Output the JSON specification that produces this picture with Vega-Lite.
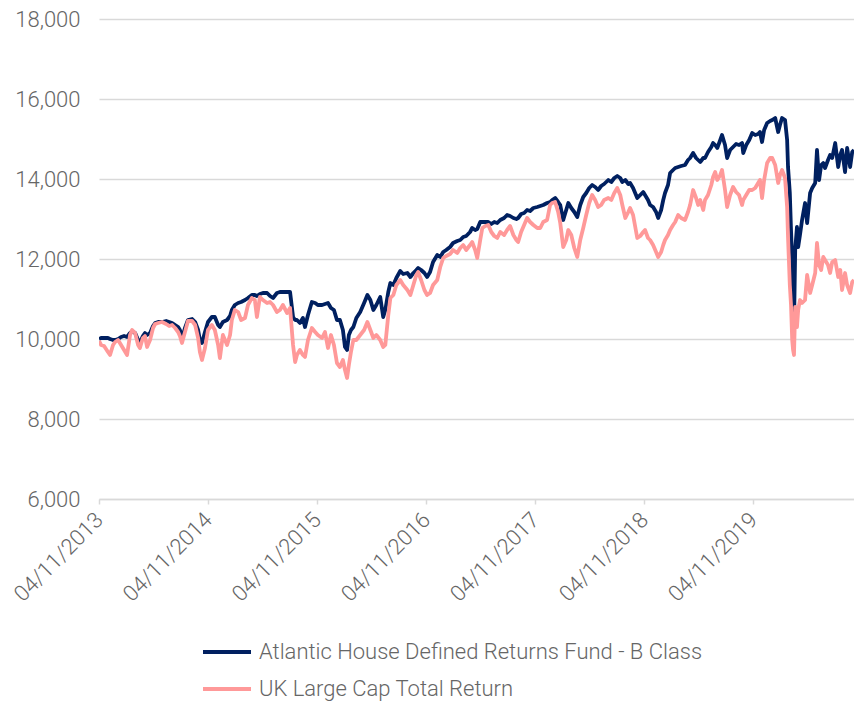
{
  "$schema": "https://vega.github.io/schema/vega-lite/v6.json",
  "autosize": "none",
  "width": 755,
  "height": 480,
  "padding": {"left": 99, "top": 19, "right": 0, "bottom": 205},
  "background": "white",
  "config": {
    "view": {"stroke": null},
    "font": "Roboto",
    "axis": {"labelFont": "Roboto", "labelFontWeight": 300, "labelColor": "#666666", "labelFontSize": 22}
  },
  "data": {"values": [
    {"d":"2013-11-04","f":10000,"u":9950},{"d":"2013-11-11","f":10025,"u":9850},{"d":"2013-11-21","f":10025,"u":9825},{"d":"2013-12-04","f":10025,"u":9675},{"d":"2013-12-11","f":10000,"u":9600},{"d":"2013-12-21","f":9975,"u":9850},{"d":"2013-12-28","f":9975,"u":9925},{"d":"2014-01-07","f":10000,"u":9975},{"d":"2014-01-17","f":10050,"u":9850},{"d":"2014-01-27","f":10075,"u":9725},{"d":"2014-02-06","f":10050,"u":9600},{"d":"2014-02-16","f":10150,"u":10100},{"d":"2014-02-23","f":10200,"u":10225},{"d":"2014-03-05","f":10150,"u":10150},{"d":"2014-03-15","f":9975,"u":9850},{"d":"2014-03-21","f":9900,"u":9775},{"d":"2014-03-31","f":10075,"u":10025},{"d":"2014-04-07","f":10150,"u":10075},{"d":"2014-04-14","f":10100,"u":9800},{"d":"2014-04-24","f":10150,"u":9975},{"d":"2014-05-04","f":10325,"u":10275},{"d":"2014-05-11","f":10400,"u":10375},{"d":"2014-05-21","f":10425,"u":10400},{"d":"2014-06-03","f":10425,"u":10425},{"d":"2014-06-17","f":10450,"u":10375},{"d":"2014-06-27","f":10425,"u":10325},{"d":"2014-07-07","f":10400,"u":10350},{"d":"2014-07-17","f":10350,"u":10275},{"d":"2014-07-27","f":10300,"u":10175},{"d":"2014-08-02","f":10225,"u":10075},{"d":"2014-08-09","f":10025,"u":9900},{"d":"2014-08-19","f":10275,"u":10175},{"d":"2014-08-29","f":10475,"u":10450},{"d":"2014-09-12","f":10500,"u":10450},{"d":"2014-09-22","f":10425,"u":10350},{"d":"2014-10-02","f":10225,"u":10025},{"d":"2014-10-08","f":9975,"u":9675},{"d":"2014-10-15","f":9900,"u":9475},{"d":"2014-10-25","f":10175,"u":9775},{"d":"2014-11-04","f":10425,"u":10225},{"d":"2014-11-17","f":10550,"u":10350},{"d":"2014-11-27","f":10550,"u":10225},{"d":"2014-12-08","f":10350,"u":9850},{"d":"2014-12-14","f":10300,"u":9525},{"d":"2014-12-24","f":10425,"u":10100},{"d":"2015-01-07","f":10475,"u":9850},{"d":"2015-01-17","f":10575,"u":10100},{"d":"2015-01-23","f":10725,"u":10475},{"d":"2015-02-02","f":10850,"u":10725},{"d":"2015-02-13","f":10900,"u":10675},{"d":"2015-02-23","f":10925,"u":10475},{"d":"2015-03-08","f":10975,"u":10525},{"d":"2015-03-18","f":11025,"u":10850},{"d":"2015-03-31","f":11100,"u":11025},{"d":"2015-04-10","f":11100,"u":10975},{"d":"2015-04-17","f":11075,"u":10550},{"d":"2015-04-27","f":11125,"u":11050},{"d":"2015-05-07","f":11150,"u":10975},{"d":"2015-05-21","f":11150,"u":10900},{"d":"2015-05-31","f":11075,"u":10925},{"d":"2015-06-10","f":11025,"u":10850},{"d":"2015-06-23","f":11150,"u":10675},{"d":"2015-07-03","f":11175,"u":10725},{"d":"2015-07-13","f":11175,"u":10850},{"d":"2015-07-27","f":11175,"u":10650},{"d":"2015-08-06","f":11175,"u":10775},{"d":"2015-08-16","f":10550,"u":9850},{"d":"2015-08-23","f":10475,"u":9425},{"d":"2015-08-29","f":10475,"u":9600},{"d":"2015-09-08","f":10400,"u":9725},{"d":"2015-09-18","f":10525,"u":9600},{"d":"2015-09-25","f":10300,"u":9550},{"d":"2015-10-05","f":10600,"u":9975},{"d":"2015-10-18","f":10925,"u":10275},{"d":"2015-10-29","f":10900,"u":10175},{"d":"2015-11-07","f":10850,"u":10100},{"d":"2015-11-21","f":10850,"u":10025},{"d":"2015-12-01","f":10875,"u":10175},{"d":"2015-12-11","f":10900,"u":9775},{"d":"2015-12-21","f":10775,"u":10100},{"d":"2015-12-31","f":10725,"u":9850},{"d":"2016-01-10","f":10475,"u":9400},{"d":"2016-01-20","f":10475,"u":9300},{"d":"2016-01-30","f":10225,"u":9475},{"d":"2016-02-06","f":9800,"u":9225},{"d":"2016-02-13","f":9725,"u":9025},{"d":"2016-02-19","f":10100,"u":9350},{"d":"2016-02-26","f":10225,"u":9675},{"d":"2016-03-05","f":10300,"u":9975},{"d":"2016-03-15","f":10525,"u":9975},{"d":"2016-03-28","f":10675,"u":10100},{"d":"2016-04-10","f":10900,"u":10225},{"d":"2016-04-21","f":11100,"u":10425},{"d":"2016-05-01","f":10975,"u":10225},{"d":"2016-05-11","f":10725,"u":10025},{"d":"2016-05-21","f":10850,"u":10100},{"d":"2016-06-03","f":11050,"u":9975},{"d":"2016-06-13","f":10550,"u":9800},{"d":"2016-06-20","f":10725,"u":9850},{"d":"2016-06-30","f":11175,"u":10600},{"d":"2016-07-07","f":11400,"u":11025},{"d":"2016-07-17","f":11350,"u":11100},{"d":"2016-07-27","f":11525,"u":11350},{"d":"2016-08-09","f":11700,"u":11475},{"d":"2016-08-19","f":11625,"u":11350},{"d":"2016-09-02","f":11650,"u":11225},{"d":"2016-09-12","f":11550,"u":11100},{"d":"2016-09-22","f":11650,"u":11350},{"d":"2016-10-02","f":11725,"u":11600},{"d":"2016-10-08","f":11775,"u":11675},{"d":"2016-10-18","f":11725,"u":11475},{"d":"2016-10-29","f":11650,"u":11225},{"d":"2016-11-07","f":11550,"u":11100},{"d":"2016-11-17","f":11675,"u":11150},{"d":"2016-11-27","f":11925,"u":11350},{"d":"2016-12-11","f":12100,"u":11475},{"d":"2016-12-21","f":12050,"u":11800},{"d":"2016-12-31","f":12175,"u":12025},{"d":"2017-01-10","f":12225,"u":12075},{"d":"2017-01-23","f":12300,"u":12125},{"d":"2017-02-02","f":12400,"u":12225},{"d":"2017-02-16","f":12450,"u":12150},{"d":"2017-02-26","f":12475,"u":12275},{"d":"2017-03-08","f":12550,"u":12350},{"d":"2017-03-18","f":12575,"u":12225},{"d":"2017-03-31","f":12675,"u":12350},{"d":"2017-04-07","f":12775,"u":12425},{"d":"2017-04-17","f":12725,"u":12225},{"d":"2017-04-24","f":12750,"u":12025},{"d":"2017-05-04","f":12925,"u":12475},{"d":"2017-05-11","f":12925,"u":12775},{"d":"2017-05-21","f":12925,"u":12825},{"d":"2017-05-31","f":12925,"u":12850},{"d":"2017-06-10","f":12875,"u":12675},{"d":"2017-06-20","f":12925,"u":12575},{"d":"2017-06-30","f":12900,"u":12525},{"d":"2017-07-10","f":12975,"u":12675},{"d":"2017-07-23","f":13025,"u":12600},{"d":"2017-08-02","f":13100,"u":12725},{"d":"2017-08-12","f":13075,"u":12825},{"d":"2017-08-23","f":13025,"u":12600},{"d":"2017-09-02","f":13000,"u":12475},{"d":"2017-09-08","f":13025,"u":12425},{"d":"2017-09-18","f":13125,"u":12675},{"d":"2017-09-28","f":13150,"u":12850},{"d":"2017-10-08","f":13225,"u":13025},{"d":"2017-10-18","f":13200,"u":12925},{"d":"2017-10-29","f":13275,"u":12850},{"d":"2017-11-11","f":13300,"u":12775},{"d":"2017-11-21","f":13325,"u":12775},{"d":"2017-12-01","f":13350,"u":12925},{"d":"2017-12-14","f":13400,"u":12975},{"d":"2017-12-24","f":13425,"u":13350},{"d":"2017-12-31","f":13475,"u":13400},{"d":"2018-01-10","f":13525,"u":13425},{"d":"2018-01-20","f":13425,"u":13175},{"d":"2018-01-27","f":13350,"u":12900},{"d":"2018-02-06","f":12975,"u":12300},{"d":"2018-02-16","f":13225,"u":12475},{"d":"2018-02-23","f":13400,"u":12725},{"d":"2018-03-05","f":13275,"u":12600},{"d":"2018-03-15","f":13175,"u":12275},{"d":"2018-03-25","f":13050,"u":12050},{"d":"2018-04-04","f":13350,"u":12475},{"d":"2018-04-14","f":13550,"u":12775},{"d":"2018-04-24","f":13650,"u":13100},{"d":"2018-05-04","f":13775,"u":13400},{"d":"2018-05-14","f":13850,"u":13600},{"d":"2018-05-24","f":13800,"u":13475},{"d":"2018-06-03","f":13725,"u":13300},{"d":"2018-06-13","f":13825,"u":13350},{"d":"2018-06-23","f":13875,"u":13475},{"d":"2018-07-07","f":13975,"u":13525},{"d":"2018-07-17","f":13925,"u":13475},{"d":"2018-07-27","f":14025,"u":13650},{"d":"2018-08-06","f":14075,"u":13775},{"d":"2018-08-16","f":14025,"u":13600},{"d":"2018-08-23","f":13925,"u":13350},{"d":"2018-09-02","f":13975,"u":13025},{"d":"2018-09-12","f":13875,"u":13175},{"d":"2018-09-18","f":13900,"u":13275},{"d":"2018-09-28","f":13775,"u":13100},{"d":"2018-10-12","f":13525,"u":12525},{"d":"2018-10-22","f":13600,"u":12575},{"d":"2018-11-01","f":13675,"u":12675},{"d":"2018-11-07","f":13600,"u":12725},{"d":"2018-11-17","f":13475,"u":12525},{"d":"2018-11-24","f":13350,"u":12475},{"d":"2018-12-04","f":13300,"u":12350},{"d":"2018-12-14","f":13175,"u":12175},{"d":"2018-12-21","f":13025,"u":12050},{"d":"2018-12-31","f":13225,"u":12175},{"d":"2019-01-07","f":13475,"u":12350},{"d":"2019-01-13","f":13650,"u":12475},{"d":"2019-01-23","f":13850,"u":12600},{"d":"2019-01-30","f":14150,"u":12725},{"d":"2019-02-09","f":14225,"u":12850},{"d":"2019-02-16","f":14275,"u":12925},{"d":"2019-02-26","f":14300,"u":13100},{"d":"2019-03-08","f":14325,"u":13025},{"d":"2019-03-21","f":14350,"u":12975},{"d":"2019-03-31","f":14475,"u":13175},{"d":"2019-04-07","f":14525,"u":13350},{"d":"2019-04-17","f":14650,"u":13725},{"d":"2019-04-27","f":14525,"u":13525},{"d":"2019-05-04","f":14475,"u":13350},{"d":"2019-05-11","f":14425,"u":13475},{"d":"2019-05-21","f":14525,"u":13225},{"d":"2019-05-27","f":14525,"u":13475},{"d":"2019-06-06","f":14675,"u":13600},{"d":"2019-06-17","f":14800,"u":13850},{"d":"2019-06-23","f":14900,"u":14050},{"d":"2019-06-30","f":14850,"u":14175},{"d":"2019-07-07","f":14775,"u":13975},{"d":"2019-07-17","f":14975,"u":14100},{"d":"2019-07-23","f":15100,"u":14225},{"d":"2019-08-02","f":14850,"u":13725},{"d":"2019-08-09","f":14525,"u":13300},{"d":"2019-08-19","f":14725,"u":13600},{"d":"2019-08-29","f":14800,"u":13800},{"d":"2019-09-08","f":14875,"u":13675},{"d":"2019-09-18","f":14850,"u":13600},{"d":"2019-09-28","f":14900,"u":13350},{"d":"2019-10-02","f":14650,"u":13475},{"d":"2019-10-12","f":14850,"u":13600},{"d":"2019-10-22","f":14975,"u":13725},{"d":"2019-11-01","f":15150,"u":13725},{"d":"2019-11-11","f":15100,"u":13775},{"d":"2019-11-21","f":15125,"u":13900},{"d":"2019-11-27","f":15175,"u":13975},{"d":"2019-12-04","f":14925,"u":13525},{"d":"2019-12-11","f":15225,"u":13975},{"d":"2019-12-21","f":15400,"u":14400},{"d":"2019-12-31","f":15450,"u":14525},{"d":"2020-01-07","f":15475,"u":14525},{"d":"2020-01-17","f":15525,"u":14350},{"d":"2020-01-27","f":15175,"u":13900},{"d":"2020-02-02","f":15350,"u":14100},{"d":"2020-02-09","f":15525,"u":14225},{"d":"2020-02-19","f":15475,"u":14025},{"d":"2020-02-26","f":14975,"u":13300},{"d":"2020-02-29","f":14300,"u":12550},{"d":"2020-03-06","f":13650,"u":11350},{"d":"2020-03-10","f":12725,"u":10850},{"d":"2020-03-14","f":11975,"u":9975},{"d":"2020-03-17","f":10975,"u":9725},{"d":"2020-03-20","f":10300,"u":9600},{"d":"2020-03-24","f":12225,"u":10800},{"d":"2020-03-30","f":12800,"u":10300},{"d":"2020-04-03","f":12300,"u":10725},{"d":"2020-04-09","f":12600,"u":10975},{"d":"2020-04-16","f":12975,"u":10900},{"d":"2020-04-26","f":13400,"u":10975},{"d":"2020-05-03","f":12900,"u":11600},{"d":"2020-05-13","f":13650,"u":11150},{"d":"2020-05-20","f":13775,"u":11350},{"d":"2020-05-30","f":13900,"u":11650},{"d":"2020-06-05","f":14725,"u":12400},{"d":"2020-06-12","f":13975,"u":11850},{"d":"2020-06-19","f":14350,"u":11725},{"d":"2020-06-26","f":14400,"u":12050},{"d":"2020-07-02","f":14275,"u":11975},{"d":"2020-07-12","f":14475,"u":11850},{"d":"2020-07-19","f":14600,"u":11650},{"d":"2020-07-26","f":14525,"u":11925},{"d":"2020-08-05","f":14900,"u":11975},{"d":"2020-08-15","f":14300,"u":11550},{"d":"2020-08-22","f":14600,"u":11725},{"d":"2020-08-28","f":14725,"u":11225},{"d":"2020-09-07","f":14175,"u":11650},{"d":"2020-09-14","f":14775,"u":11350},{"d":"2020-09-24","f":14300,"u":11150},{"d":"2020-10-01","f":14675,"u":11425},{"d":"2020-10-07","f":14725,"u":11475}
  ]},
  "encoding": {
    "x": {
      "field": "d", "type": "temporal",
      "scale": {"type": "utc", "domain": [{"year": 2013, "month": 11, "date": 4, "utc": true}, {"year": 2020, "month": 10, "date": 7, "utc": true}]},
      "axis": {
        "title": null,
        "values": [
          {"year": 2013, "month": 11, "date": 4, "utc": true},
          {"year": 2014, "month": 11, "date": 4, "utc": true},
          {"year": 2015, "month": 11, "date": 4, "utc": true},
          {"year": 2016, "month": 11, "date": 4, "utc": true},
          {"year": 2017, "month": 11, "date": 4, "utc": true},
          {"year": 2018, "month": 11, "date": 4, "utc": true},
          {"year": 2019, "month": 11, "date": 4, "utc": true}
        ],
        "format": "%d/%m/%Y",
        "labelAngle": -45,
        "labelAlign": "right",
        "labelBaseline": "middle",
        "labelPadding": 12,
        "grid": false,
        "domainColor": "#d9d9d9",
        "domainWidth": 1.5,
        "tickColor": "#d9d9d9",
        "tickWidth": 1.5,
        "tickSize": 5,
        "labelOverlap": false,
        "labelBound": false,
        "labelFlush": false
      }
    }
  },
  "layer": [
    {
      "mark": {"type": "line", "strokeWidth": 3.8, "strokeJoin": "round", "clip": true},
      "encoding": {
        "y": {
          "field": "f", "type": "quantitative",
          "scale": {"domain": [6000, 18000], "nice": false, "zero": false},
          "axis": {
            "title": null,
            "values": [6000, 8000, 10000, 12000, 14000, 16000, 18000],
            "format": ",d",
            "domain": false,
            "ticks": false,
            "labelPadding": 19,
            "gridColor": "#d9d9d9",
            "gridWidth": 1.5
          }
        },
        "color": {
          "datum": "Atlantic House Defined Returns Fund - B Class",
          "type": "nominal",
          "scale": {
            "domain": ["Atlantic House Defined Returns Fund - B Class", "UK Large Cap Total Return"],
            "range": ["#002060", "#FF9999"]
          },
          "legend": {
            "title": null,
            "orient": "none",
            "legendX": 102,
            "legendY": 607,
            "direction": "vertical",
            "symbolType": "stroke",
            "symbolSize": 2304,
            "symbolStrokeWidth": 3.8,
            "labelFont": "Roboto",
            "labelFontWeight": 300,
            "labelFontSize": 22,
            "labelColor": "#666666",
            "labelOffset": 6,
            "labelLimit": 0,
            "rowPadding": -4,
            "padding": 0
          }
        }
      }
    },
    {
      "mark": {"type": "line", "strokeWidth": 3.8, "strokeJoin": "round", "clip": true},
      "encoding": {
        "y": {"field": "u", "type": "quantitative"},
        "color": {"datum": "UK Large Cap Total Return", "type": "nominal"}
      }
    }
  ]
}
